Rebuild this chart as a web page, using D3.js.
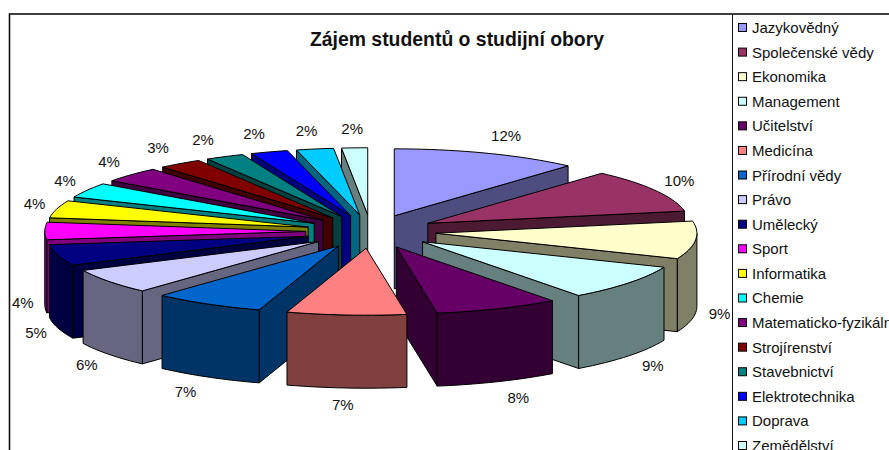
<!DOCTYPE html>
<html><head><meta charset="utf-8">
<script src="https://cdn.jsdelivr.net/npm/d3@7/dist/d3.min.js"></script>
<style>html,body{margin:0;padding:0;background:#fff;overflow:hidden}svg{display:block}text{font-family:"Liberation Sans",Arial,sans-serif;fill:#111}</style>
</head><body><svg id="c" width="889" height="450"></svg>
<script>
const categories = ["Jazykovědný","Společenské vědy","Ekonomika","Management","Učitelství","Medicína","Přírodní vědy","Právo","Umělecký","Sport","Informatika","Chemie","Matematicko-fyzikální","Strojírenství","Stavebnictví","Elektrotechnika","Doprava","Zemědělství"];
const shares = [11.6,10.49,9.11,8.6,7.7,7.4,6.9,6.1,5.1,4.2,4.2,3.6,3.7,2.7,2.4,2.3,2.3,1.6];
const topColors = ["#9999FF","#993366","#FFFFCC","#CCFFFF","#660066","#FF8080","#0066CC","#CCCCFF","#000080","#FF00FF","#FFFF00","#00FFFF","#800080","#800000","#008080","#0000FF","#00CCFF","#CCFFFF"];
const title = "Zájem studentů o studijní obory";

const svg = d3.select("#c");
const W = 889, H = 450;
const x = d3.scaleLinear().domain([-1,1]).range([371-261,371+261]);
const y = d3.scaleLinear().domain([-1,1]).range([231.5-67,231.5+67]);
const DEPTH = 73, EXPLODE = 0.25;
const darker = c => { const r = d3.rgb(c); return d3.rgb(r.r/2,r.g/2,r.b/2).formatHex(); };
const fmt = d3.format(".0%");
const total = d3.sum(shares);

// frame
svg.append("rect").attr("x",9.5).attr("y",14).attr("width",W).attr("height",H).attr("fill","none").attr("stroke","#111").attr("stroke-width",1.6);
svg.append("line").attr("x1",732.5).attr("x2",732.5).attr("y1",14).attr("y2",H).attr("stroke","#111");
svg.append("text").attr("x",457).attr("y",46).attr("text-anchor","middle").attr("font-weight","bold").attr("font-size",19.4).text(title);

const pie = d3.pie().sort(null).value(d=>d.v).startAngle(0).endAngle(2*Math.PI);
const arcs = pie(shares.map((v,i)=>({v,i,name:categories[i],c:topColors[i]})));
arcs.forEach(a=>{a.mid=(a.startAngle+a.endAngle)/2;a.ox=EXPLODE*Math.sin(a.mid);a.oy=-EXPLODE*Math.cos(a.mid);});

const P = (a,r,t,z) => [x(a.ox+r*Math.sin(t)), y(a.oy-r*Math.cos(t))+(z||0)];
const line = d3.line();
const step = Math.PI/180;
function rim(t0,t1){ const n=Math.max(1,Math.ceil((t1-t0)/(2*step))); return d3.range(n+1).map(k=>t0+(t1-t0)*k/n); }

const draw = arcs.slice().sort((p,q)=>Math.cos(q.mid)-Math.cos(p.mid));
const g = svg.append("g").attr("stroke","#000").attr("stroke-width",1).attr("stroke-linejoin","round");
draw.forEach(a=>{
  const side = darker(a.data.c);
  const wall = t => g.append("path").attr("fill",side).attr("d",line([P(a,0,0),P(a,1,t),P(a,1,t,DEPTH),P(a,0,0,DEPTH)])+"Z");
  if(Math.sin(a.startAngle)<0) wall(a.startAngle);
  if(Math.sin(a.endAngle)>0) wall(a.endAngle);
  const f0=Math.max(a.startAngle,Math.PI/2), f1=Math.min(a.endAngle,3*Math.PI/2);
  if(f1>f0){
    const ts=rim(f0,f1);
    g.append("path").attr("fill",side).attr("d",line(ts.map(t=>P(a,1,t)).concat(ts.slice().reverse().map(t=>P(a,1,t,DEPTH))))+"Z");
  }
  const ts=rim(a.startAngle,a.endAngle);
  g.append("path").attr("fill",a.data.c).attr("d",line([P(a,0,0)].concat(ts.map(t=>P(a,1,t))))+"Z");
});

// data labels
const lab = svg.append("g").attr("font-size",15).attr("text-anchor","middle");
arcs.forEach(a=>{
  const s=Math.sin(a.mid), c=Math.cos(a.mid), p=P(a,1,a.mid,c<0.02?DEPTH:0);
  lab.append("text").attr("x",p[0]+(s>0?24:22)*Math.max(-1,Math.min(1,2.2*s))).attr("y",p[1]-18*c+4.5)
    .text(fmt(a.data.v/total));
});

// legend
const ly = d3.scalePoint().domain(categories).range([28,446]);
const leg = svg.append("g");
categories.forEach((n,i)=>{
  leg.append("rect").attr("x",738.5).attr("y",ly(n)-4.5).attr("width",8).attr("height",8).attr("fill",topColors[i]).attr("stroke","#000");
  leg.append("text").attr("x",752).attr("y",ly(n)+5).attr("font-size",15).text(n);
});
</script></body></html>
